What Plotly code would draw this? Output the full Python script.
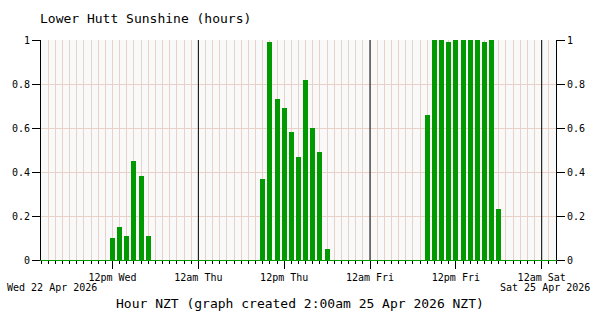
import plotly.graph_objects as go

# ---- data ----
bar_times = [
    "2026-04-22 12:00", "2026-04-22 13:00", "2026-04-22 14:00", "2026-04-22 15:00",
    "2026-04-22 16:00", "2026-04-22 17:00",
    "2026-04-23 09:00", "2026-04-23 10:00", "2026-04-23 11:00", "2026-04-23 12:00",
    "2026-04-23 13:00", "2026-04-23 14:00", "2026-04-23 15:00", "2026-04-23 16:00",
    "2026-04-23 17:00", "2026-04-23 18:00",
    "2026-04-24 08:00", "2026-04-24 09:00", "2026-04-24 10:00", "2026-04-24 11:00",
    "2026-04-24 12:00", "2026-04-24 13:00", "2026-04-24 14:00", "2026-04-24 15:00",
    "2026-04-24 16:00", "2026-04-24 17:00", "2026-04-24 18:00",
]
sunshine = [
    0.10, 0.15, 0.11, 0.45, 0.38, 0.11,
    0.37, 0.99, 0.73, 0.69, 0.58, 0.47, 0.82, 0.60, 0.49, 0.05,
    0.66, 1.00, 1.00, 0.99, 1.00, 1.00, 1.00, 1.00, 0.99, 1.00, 0.23,
]
x_range = ["2026-04-22 02:00", "2026-04-25 02:00"]
major_ticks = ["2026-04-22 12:00", "2026-04-23 00:00", "2026-04-23 12:00",
               "2026-04-24 00:00", "2026-04-24 12:00", "2026-04-25 00:00"]
major_labels = ["12pm Wed", "12am Thu", "12pm Thu", "12am Fri", "12pm Fri", "12am Sat"]
midnights = ["2026-04-23 00:00", "2026-04-24 00:00", "2026-04-25 00:00"]
y_ticks = [0, 0.2, 0.4, 0.6, 0.8, 1]
y_labels = ["0", "0.2", "0.4", "0.6", "0.8", "1"]

HOUR_MS = 3600000
FONT = "DejaVu Sans Mono"
GRID = "#e8d2c8"
GREEN = "#009900"

fig = go.Figure()
fig.add_trace(go.Bar(x=bar_times, y=sunshine, width=0.7 * HOUR_MS,
                     marker=dict(color=GREEN, line=dict(width=0)),
                     hoverinfo="skip", showlegend=False))
fig.add_trace(go.Scatter(x=x_range, y=[0, 0], yaxis="y2", mode="lines",
                         line=dict(width=0), opacity=0, hoverinfo="skip",
                         showlegend=False))

for m in midnights:
    fig.add_shape(type="line", xref="x", yref="paper", x0=m, x1=m, y0=0, y1=1,
                  line=dict(color="black", width=1), layer="above")

fig.update_layout(
    width=600, height=320,
    margin=dict(l=41, r=44, t=40, b=60),
    paper_bgcolor="white",
    plot_bgcolor="#f9f9f9",
    bargap=0,
    font=dict(family=FONT, size=10, color="black"),
    title=dict(text="Lower Hutt Sunshine (hours)", xref="container", yref="container",
               x=40 / 600, y=1 - 18.5 / 320, xanchor="left", yanchor="middle",
               font=dict(family=FONT, size=13, color="black")),
    xaxis=dict(
        type="date", range=x_range,
        tickmode="array", tickvals=major_ticks, ticktext=major_labels,
        ticks="outside", ticklen=8, tickcolor="black", tickwidth=1,
        showgrid=True, gridcolor=GRID, gridwidth=1,
        showline=True, linecolor=GREEN, linewidth=1,
        zeroline=False,
        tickfont=dict(family=FONT, size=10, color="black"),
        minor=dict(dtick=HOUR_MS, tick0="2026-04-22 00:00", ticks="outside",
                   ticklen=3, tickcolor="black", tickwidth=1,
                   showgrid=True, gridcolor=GRID, gridwidth=1),
    ),
    yaxis=dict(
        range=[0, 1], tickmode="array", tickvals=y_ticks, ticktext=y_labels,
        ticks="outside", ticklen=8, tickcolor="black",
        showgrid=True, gridcolor=GRID, gridwidth=1,
        showline=True, linecolor="black", linewidth=1, zeroline=False,
        tickfont=dict(family=FONT, size=10, color="black"),
    ),
    yaxis2=dict(
        range=[0, 1], overlaying="y", side="right", anchor="x",
        tickmode="array", tickvals=y_ticks, ticktext=y_labels,
        ticks="outside", ticklen=8, tickcolor="black",
        showgrid=False, showline=True, linecolor="black", linewidth=1,
        zeroline=False,
        tickfont=dict(family=FONT, size=10, color="black"),
    ),
    annotations=[
        dict(text="Wed 22 Apr 2026", xref="paper", yref="paper",
             x=(5 - 41) / 515, y=(260 - 287) / 220, xanchor="left", yanchor="middle",
             showarrow=False, font=dict(family=FONT, size=10, color="black")),
        dict(text="Sat 25 Apr 2026", xref="paper", yref="paper",
             x=(592 - 41) / 515, y=(260 - 287) / 220, xanchor="right", yanchor="middle",
             showarrow=False, font=dict(family=FONT, size=10, color="black")),
        dict(text="Hour NZT (graph created 2:00am 25 Apr 2026 NZT)",
             xref="paper", yref="paper", x=(300 - 41) / 515, y=(260 - 303) / 220,
             xanchor="center", yanchor="middle", showarrow=False,
             font=dict(family=FONT, size=13, color="black")),
    ],
)

fig.write_html("out.html")
